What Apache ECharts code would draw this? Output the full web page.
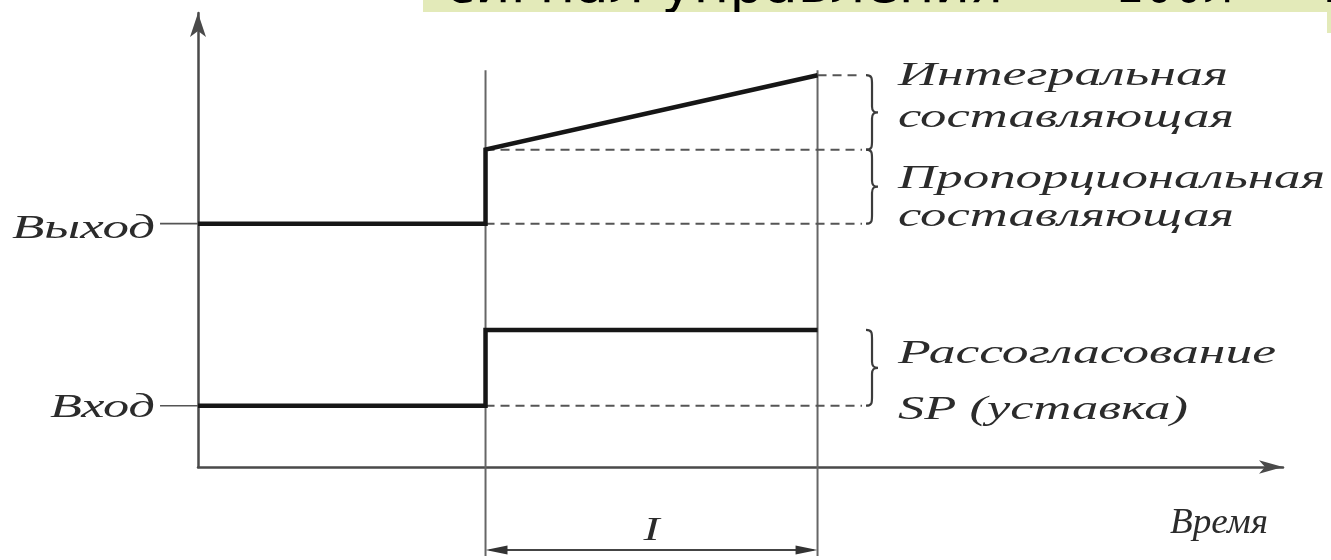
<!DOCTYPE html>
<html>
<head>
<meta charset="utf-8">
<title>ПИ-регулятор</title>
<script src="https://cdn.jsdelivr.net/npm/echarts@6/dist/echarts.min.js"></script>
<style>
  html, body { margin: 0; padding: 0; background: #fff; }
  #chart { width: 1331px; height: 560px; }
</style>
</head>
<body>
<div id="chart"></div>
<script>
// Step response of a PI controller: the input (setpoint) jumps at stepTime,
// the output jumps by the proportional part and then ramps up (integral part).
const stepTime = 26.5;        // moment the setpoint changes
const endTime = 57.1;         // end of the interval I
const guideEnd = 61.2;        // right end of the dashed guide lines
const tickStart = -3.5;       // left end of the level marks next to the axis
const markerTop = 87.4;       // upper end of the two vertical time markers
const markerBottom = -19.6;   // lower end of the time markers (below the time axis)
const intervalLevel = -18.3;  // height of the dimension arrow for I

const outputTime  = [0, stepTime, stepTime, endTime];
const outputLevel = [53.6, 53.6, 69.9, 86.3];
const inputTime   = [0, stepTime, stepTime, endTime];
const inputLevel  = [13.5, 13.5, 30.2, 30.2];

const levelNames = ['Выход', 'Вход'];
const integralNames = ['Интегральная', 'составляющая'];
const proportionalNames = ['Пропорциональная', 'составляющая'];
const errorNames = ['Рассогласование', 'SP (уставка)'];
const timeName = 'Время';
const intervalName = 'I';
const headerParts = ['сигнал управления', '100л', 'П'];

const pair = (xs, ys) => xs.map((x, i) => [x, ys[i]]);

const INK = '#161616';
const GREY = '#555555';
const TEXT = '#2b2b2b';
const SERIF = '"Liberation Serif", "DejaVu Serif", serif';

function lineSeries(name, data, lineStyle, extra) {
  return Object.assign({
    type: 'line', name, data, symbol: 'none', clip: false,
    silent: true, animation: false, lineStyle
  }, extra || {});
}

const dashed = { color: GREY, width: 2, type: [9, 6] };

// curly braces to the right of the guides, one per [upper, lower] level pair
const braceSpans = [
  [outputLevel[3], outputLevel[2]],
  [outputLevel[2], outputLevel[0]],
  [inputLevel[2], inputLevel[0]]
];

function renderBrace(params, api) {
  const top = api.coord([guideEnd, api.value(0)]);
  const bottom = api.coord([guideEnd, api.value(1)]);
  const x = top[0] + 4, y0 = top[1], y1 = bottom[1];
  const ym = (y0 + y1) / 2, v = x + 6, t = x + 12;
  const d = `M${x},${y0} C${v},${y0} ${v},${y0 + 3} ${v},${y0 + 9} ` +
            `L${v},${ym - 6} C${v},${ym - 1} ${v + 2},${ym} ${t},${ym} ` +
            `C${v + 2},${ym} ${v},${ym + 1} ${v},${ym + 6} ` +
            `L${v},${y1 - 9} C${v},${y1 - 3} ${v},${y1} ${x},${y1}`;
  return { type: 'path', shape: { pathData: d },
           style: { fill: 'none', stroke: '#3c3c3c', lineWidth: 2.2 } };
}

// short marks joining the level names to the vertical axis
function renderLevelMark(params, api) {
  const a = api.coord([api.value(0), api.value(1)]);
  const b = api.coord([0, api.value(1)]);
  return { type: 'line', shape: { x1: a[0], y1: a[1], x2: b[0], y2: b[1] },
           style: { stroke: '#555', lineWidth: 1.6 } };
}

// double-headed dimension arrow between the two time markers
function renderInterval(params, api) {
  const a = api.coord([api.value(0), api.value(2)]);
  const b = api.coord([api.value(1), api.value(2)]);
  const L = 22, H = 4.5;
  return {
    type: 'group',
    children: [
      { type: 'line', shape: { x1: a[0] + 4, y1: a[1], x2: b[0] - 4, y2: b[1] },
        style: { stroke: '#444', lineWidth: 2 } },
      { type: 'polygon', shape: { points: [[a[0], a[1]], [a[0] + L, a[1] - H], [a[0] + L, a[1] + H]] },
        style: { fill: '#333' } },
      { type: 'polygon', shape: { points: [[b[0], b[1]], [b[0] - L, b[1] - H], [b[0] - L, b[1] + H]] },
        style: { fill: '#333' } }
    ]
  };
}

const chart = echarts.init(document.getElementById('chart'), null, { renderer: 'canvas' });

chart.setOption({
  animation: false,
  backgroundColor: '#ffffff',
  grid: { left: 198, right: 48, top: 13, bottom: 93 },
  xAxis: {
    type: 'value', min: 0, max: 100,
    axisLine: {
      show: true, onZero: false,
      symbol: ['none', 'arrow'], symbolSize: [10, 24],
      lineStyle: { color: '#4a4a4a', width: 2.5 }
    },
    axisTick: { show: false }, axisLabel: { show: false }, splitLine: { show: false }
  },
  yAxis: {
    type: 'value', min: 0, max: 100,
    axisLine: {
      show: true, onZero: false,
      symbol: ['none', 'arrow'], symbolSize: [12, 24],
      lineStyle: { color: '#4a4a4a', width: 2.5 }
    },
    axisTick: { show: false }, axisLabel: { show: false }, splitLine: { show: false }
  },
  series: [
    // time markers
    lineSeries('t0', [[stepTime, markerBottom], [stepTime, markerTop]], { color: '#666', width: 2 }),
    lineSeries('t1', [[endTime, markerBottom], [endTime, markerTop]], { color: '#666', width: 2 }),
    // dashed guides
    lineSeries('g1', [[endTime, outputLevel[3]], [guideEnd, outputLevel[3]]], dashed),
    lineSeries('g2', [[stepTime, outputLevel[2]], [guideEnd, outputLevel[2]]], dashed),
    lineSeries('g3', [[stepTime, outputLevel[0]], [guideEnd, outputLevel[0]]], dashed),
    lineSeries('g4', [[stepTime, inputLevel[0]], [guideEnd, inputLevel[0]]], dashed),
    // signals
    lineSeries(levelNames[0], pair(outputTime, outputLevel), { color: INK, width: 4.5, join: 'miter' }),
    lineSeries(levelNames[1], pair(inputTime, inputLevel), { color: INK, width: 4.5, join: 'miter' }),
    // level marks, braces and interval arrow
    { type: 'custom', name: 'levelMarks', silent: true, clip: false, animation: false,
      data: [[tickStart, outputLevel[0]], [tickStart, inputLevel[0]]], renderItem: renderLevelMark },
    { type: 'custom', name: 'braces', silent: true, clip: false, animation: false,
      data: braceSpans, renderItem: renderBrace },
    { type: 'custom', name: 'interval', silent: true, clip: false, animation: false,
      data: [[stepTime, endTime, intervalLevel]], renderItem: renderInterval }
  ]
});

// ---- text annotations placed through the grid's own coordinate conversion ----
const px = (x, y) => chart.convertToPixel({ gridIndex: 0 }, [x, y]);
const measureCtx = document.createElement('canvas').getContext('2d');
function measure(text, font) { measureCtx.font = font; return measureCtx.measureText(text).width; }

// stretched italic label: alphabetic baseline at `baseline`, drawn width = width
function label(text, x, baseline, width, size, align) {
  const font = `italic ${size}px ${SERIF}`;
  const sx = width / measure(text, font);
  const left = align === 'right' ? x - width : align === 'center' ? x - width / 2 : x;
  return {
    type: 'text', x: left, y: baseline - 0.305 * size, scaleX: sx, silent: true,
    style: { text, font, fill: TEXT, align: 'left', verticalAlign: 'middle' }
  };
}

const textX = px(guideEnd, 0)[0] + 36;
const yOf = v => px(0, v)[1];
const origin = px(0, 0);
const axisEnd = px(100, 0);
const dimY = yOf(intervalLevel);
const midX = (px(stepTime, 0)[0] + px(endTime, 0)[0]) / 2;

const S = 33;
const graphics = [
  label(integralNames[0], textX, yOf(outputLevel[3]) + 11, 330, S),
  label(integralNames[1], textX, yOf(outputLevel[3]) + 53, 336, S),
  label(proportionalNames[0], textX, yOf(outputLevel[0]) - 34, 427, S),
  label(proportionalNames[1], textX, yOf(outputLevel[0]) + 4, 336, S),
  label(errorNames[0], textX, yOf(inputLevel[2]) + 35, 378, S),
  label(errorNames[1], textX, yOf(inputLevel[0]) + 15, 290, S),

  label(levelNames[0], origin[0] - 43, yOf(outputLevel[0]) + 16, 143, S, 'right'),
  label(levelNames[1], origin[0] - 43, yOf(inputLevel[0]) + 13, 105, S, 'right'),

  label(timeName, axisEnd[0] - 15, axisEnd[1] + 68, 98, 36, 'right'),
  label(intervalName, midX, dimY - 9, 16, 34, 'center')
];

// heading strip of the slide along the top edge
const HEAD_BG = '#e3eab9';
const HEAD_FONT = 54;
const headFont = `${HEAD_FONT}px "DejaVu Sans", "Noto Sans", sans-serif`;
function headText(text, left, right) {
  const w = measure(text, headFont);
  return { type: 'text', x: left, y: 4 - 0.3 * HEAD_FONT, scaleX: (right - left) / w, silent: true,
           style: { text, font: headFont, fill: '#000', align: 'left', verticalAlign: 'middle' } };
}
graphics.push(
  { type: 'rect', silent: true, shape: { x: 423, y: 0, width: 908, height: 12 }, style: { fill: HEAD_BG } },
  headText(headerParts[0], 445, 1003),
  headText(headerParts[1], 1115, 1233),
  headText(headerParts[2], 1323, 1356),
  { type: 'rect', silent: true, shape: { x: 413, y: 12, width: 918, height: 40 }, style: { fill: '#fff' } },
  { type: 'rect', silent: true, shape: { x: 1327, y: 12, width: 4, height: 21 }, style: { fill: HEAD_BG } }
);

chart.setOption({ graphic: graphics });
</script>
</body>
</html>
